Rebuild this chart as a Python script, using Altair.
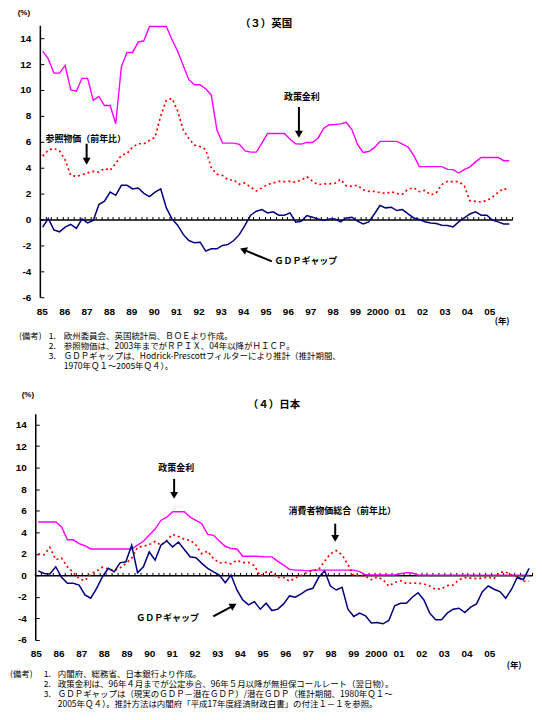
import altair as alt
import pandas as pd

FONT_NUM = "Liberation Sans"
FONT_JP = "Noto Sans CJK JP"

# ---------------- data (quarterly, starting 1985Q1) ----------------
# UK: policy rate, reference prices (y/y), GDP gap  -- 1985Q1..2005Q4
uk_policy_rate = [
    13.0, 12.4, 11.3, 11.3,  11.9, 10.0, 9.9, 10.9,  10.9, 9.2, 9.5, 8.8,
    8.8, 7.4, 11.8, 12.9,  12.9, 13.7, 13.8, 14.9,  14.9, 14.9, 14.9, 13.9,
    13.0, 11.9, 10.8, 10.4,  10.4, 10.1, 9.6, 6.9,  5.9, 5.9, 5.9, 5.8,
    5.3, 5.2, 5.2, 5.9,  6.64, 6.64, 6.64, 6.64,  6.2, 5.85, 5.82, 5.95,
    5.95, 6.3, 7.05, 7.32,  7.34, 7.38, 7.51, 6.95,  5.8, 5.18, 5.25, 5.55,
    6.03, 6.03, 6.03, 6.03,  5.82, 5.6, 4.95, 4.08,  4.08, 4.08, 4.08, 4.08,
    3.87, 3.85, 3.59, 3.85,  4.07, 4.45, 4.79, 4.79,  4.79, 4.79, 4.54, 4.54,
]
uk_ref_prices = [
    4.9, 5.35, 5.5, 5.3,  4.6, 3.4, 3.33, 3.45,  3.6, 3.72, 3.66, 3.95,
    3.8, 4.35, 4.95, 5.1,  5.6, 5.85, 5.85, 6.1,  6.35, 8.0, 9.2, 9.35,
    8.4, 6.92, 6.25, 5.75,  5.64, 5.4, 4.0, 3.5,  3.4, 3.05, 3.05, 2.72,
    2.82, 2.5, 2.2, 2.45,  2.7, 2.82, 2.95, 2.92,  2.95, 2.88, 3.05, 3.3,
    2.95, 2.69, 2.75, 2.75,  2.8, 3.1, 2.6, 2.56,  2.65, 2.3, 2.18, 2.18,
    2.08, 2.0, 2.15, 2.0,  1.95, 2.35, 2.45, 2.15,  2.25, 1.9, 2.05, 2.7,
    2.95, 2.92, 2.93, 2.6,  1.45, 1.4, 1.35, 1.46,  1.72, 2.1, 2.4, 2.25,
]
uk_gdp_gap = [
    -0.59, 0.08, -0.8, -0.95,  -0.59, -0.38, -0.69, 0.05,  -0.26, -0.08, 1.15, 1.41,
    2.12, 1.87, 2.64, 2.64,  2.36, 2.43, 2.02, 1.77,  2.12, 2.36, 0.9, 0.05,
    -0.44, -1.15, -1.62, -1.8,  -1.75, -2.44, -2.26, -2.26,  -2.0, -1.92, -1.62, -1.15,
    -0.44, 0.33, 0.64, 0.77,  0.51, 0.6, 0.33, 0.33,  0.51, -0.21, -0.13, 0.31,
    0.18, 0.05, -0.08, 0.05,  0.05, -0.18, 0.12, 0.18,  -0.13, -0.34, -0.18, 0.43,
    1.08, 0.9, 0.95, 0.69,  0.77, 0.43, 0.12, 0.0,  -0.18, -0.26, -0.31, -0.44,
    -0.46, -0.57, -0.18, 0.12,  0.43, 0.59, 0.33, 0.33,  -0.05, -0.18, -0.34, -0.34,
]

# Japan: policy rate, CPI (y/y), GDP gap  -- 1985Q1..2006Q1
jp_policy_rate = [
    4.95, 4.95, 4.95, 4.95,  4.5, 3.3, 3.3, 2.95,  2.75, 2.45, 2.45, 2.45,
    2.45, 2.45, 2.45, 2.45,  2.45, 2.8, 3.17, 3.75,  4.3, 5.1, 5.4, 5.9,
    5.9, 5.9, 5.41, 5.1,  4.8, 3.8, 3.72, 3.2,  2.7, 2.49, 2.45, 1.78,
    1.78, 1.78, 1.75, 1.72,  1.72, 1.3, 0.95, 0.55,  0.49, 0.49, 0.42, 0.47,
    0.49, 0.49, 0.49, 0.49,  0.49, 0.49, 0.49, 0.35,  0.05, 0.03, 0.03, 0.03,
    0.03, 0.03, 0.15, 0.25,  0.22, 0.03, 0.02, 0.02,  0.02, 0.02, 0.02, 0.02,
    0.02, 0.02, 0.02, 0.02,  0.02, 0.02, 0.02, 0.02,  0.02, 0.02, 0.02, 0.02,
    0.02,
]
jp_cpi = [
    2.0, 1.9, 2.6, 1.45,  1.6, 0.8, 0.25, -0.3,  -0.5, 0.15, 0.4, 0.75,
    0.6, 0.42, 0.7, 1.1,  1.6, 2.6, 2.7, 2.85,  3.15, 2.8, 3.25, 3.8,
    3.6, 3.35, 3.26, 2.8,  2.0, 2.25, 1.55, 1.15,  1.2, 1.07, 1.4, 1.18,
    1.2, 0.9, -0.05, 0.3,  0.3, -0.2, -0.2, -0.55,  -0.25, 0.0, 0.25, 0.45,
    0.55, 1.3, 2.0, 2.3,  1.9, 1.0, -0.05, 0.0,  -0.1, -0.4, -0.15, -0.4,
    -1.0, -0.65, -0.5, -0.75,  -0.7, -0.74, -0.8, -1.0,  -1.3, -1.25, -0.95, -0.9,
    -0.4, -0.2, -0.25, -0.3,  -0.25, -0.15, -0.3, 0.3,  0.3, 0.05, -0.15, -0.55,
    -0.55,
]
jp_gdp_gap = [
    0.42, 0.18, 0.12, 0.8,  -0.18, -0.74, -0.74, -0.9,  -1.82, -2.12, -1.2, -0.13,
    0.65, 0.33, 1.16, 1.26,  2.8, 0.24, 0.8, 2.18,  1.41, 2.8, 3.2, 2.64,
    3.1, 2.4, 1.72, 1.63,  1.11, 0.65, 0.33, 0.03,  -0.68, 0.03, -1.36, -2.28,
    -2.74, -2.44, -3.14, -2.59,  -3.27, -3.14, -2.65, -1.91,  -2.03, -1.73, -1.36, -1.2,
    -0.18, 0.42, -0.99, -1.36,  -1.11, -3.14, -3.82, -3.51,  -3.76, -4.43, -4.38, -4.5,
    -4.19, -2.83, -2.59, -2.59,  -2.03, -1.61, -2.28, -3.51,  -4.13, -4.13, -3.51, -3.14,
    -3.05, -3.45, -2.95, -2.65,  -1.51, -0.99, -1.29, -1.51,  -2.12, -1.29, -0.15, -0.4,
    0.65,
]

y_ticks = list(range(-6, 15, 2))
year_ticks = list(range(1985, 2006))

uk_notes = [
    "欧州委員会、英国統計局、ＢＯＥより作成。",
    "参照物価は、2003年までがＲＰＩＸ、04年以降がＨＩＣＰ。",
    "ＧＤＰギャップは、Hodrick-Prescottフィルターにより推計（推計期間、",
    "1970年Ｑ１～2005年Ｑ４）。",
]
jp_notes = [
    "内閣府、総務省、日本銀行より作成。",
    "政策金利は、96年４月までが公定歩合、96年５月以降が無担保コールレート（翌日物）。",
    "ＧＤＰギャップは（現実のＧＤＰ－潜在ＧＤＰ）/潜在ＧＤＰ（推計期間、1980年Ｑ１～",
    "2005年Ｑ４）。推計方法は内閣府「平成17年度経済財政白書」の付注１－１を参照。",
]

# annotation labels and arrows, in data units (year, %)
uk_labels = pd.DataFrame({
    "t": [1996.65, 1987.04, 1996.83],
    "v": [9.46, 6.23, -3.23],
    "txt": ["政策金利", "参照物価（前年比）", "ＧＤＰギャップ"],
})
uk_arrows = pd.DataFrame({
    "t": [1996.52, 1987.08, 1995.32], "v": [8.69, 5.85, -3.23],
    "t2": [1996.52, 1987.08, 1994.047], "v2": [6.58, 4.5, -2.33],
    "ang": [180, 180, 292],
})
jp_labels = pd.DataFrame({
    "t": [1991.03, 1998.13, 1990.66],
    "v": [9.94, 5.98, -3.97],
    "txt": ["政策金利", "消費者物価総合（前年比）", "ＧＤＰギャップ"],
})
jp_arrows = pd.DataFrame({
    "t": [1990.94, 1997.83, 1992.613], "v": [8.96, 4.8, -3.82],
    "t2": [1990.94, 1997.83, 1993.479], "v2": [7.43, 3.43, -2.80],
    "ang": [180, 180, 61.5],
})


def quarter_mid(n):
    return [1985 + (k + 0.5) / 4 for k in range(n)]


ONE = pd.DataFrame({"a": [0]})


def text(txt, x, y, size=8.5, weight="normal", align="left", font=FONT_JP):
    return alt.Chart(ONE).mark_text(
        text=txt, fontSize=size, fontWeight=weight, align=align,
        baseline="middle", font=font, color="black",
    ).encode(x=alt.value(x), y=alt.value(y))


def panel(policy, prices, gap, x_domain, x_range, label_range, width, height,
          labels, arrows, extras):
    xs = alt.Scale(domain=x_domain, range=x_range, nice=False, zero=False)
    ys = alt.Scale(domain=[-6, 15], nice=False, zero=False)
    axis_px = x_range[0]
    zero_px = height * 15 / 21
    n_q = int(round((x_domain[1] - 1985) * 4))
    quarter_ticks = [1985 + i / 4 for i in range(n_q + 1)]

    # row of year labels under the plot, spaced on its own scale
    year_scale = alt.Scale(domain=[1985, 2005], range=label_range, nice=False, zero=False)
    year_axis = alt.Axis(
        orient="bottom", values=year_ticks, domain=False, ticks=False, tickSize=0,
        grid=False, title=None, labelPadding=9, labelFont=FONT_NUM, labelFontSize=10,
        labelFontWeight="bold", labelColor="black", labelFlush=False,
        labelOverlap=False,
        labelExpr="datum.value == 2000 ? '2000' : (datum.value % 100 < 10 ? '0' : '') + (datum.value % 100)",
    )
    value_axis = alt.Axis(
        orient="left", offset=-axis_px, values=y_ticks, domain=True,
        domainColor="black", domainWidth=1.5, ticks=False, tickSize=0, grid=False,
        title=None, labelPadding=9, labelFont=FONT_NUM, labelFontSize=10,
        labelFontWeight="bold", labelColor="black", labelOverlap=False,
        labelExpr="datum.value < 0 ? '-' + abs(datum.value) : '' + datum.value",
    )
    zero_axis = alt.Axis(
        orient="top", offset=-zero_px, values=quarter_ticks, domain=True,
        domainColor="black", domainWidth=1.5, ticks=True, tickSize=3,
        tickColor="black", tickWidth=1, labels=False, grid=False, title=None,
    )
    inner_ticks = alt.Axis(
        orient="right", offset=-(width - axis_px), values=y_ticks, domain=False,
        ticks=True, tickSize=4, tickColor="black", tickWidth=1, labels=False,
        grid=False, title=None,
    )

    years = alt.Chart(pd.DataFrame({"t": year_ticks})).mark_point(opacity=0).encode(
        x=alt.X("t:Q", scale=year_scale, axis=year_axis), y=alt.value(0))
    rate = alt.Chart(pd.DataFrame({"t": quarter_mid(len(policy)), "v": policy})).mark_line(
        color="#ff00ff", strokeWidth=1.4
    ).encode(x=alt.X("t:Q", scale=xs, axis=None),
             y=alt.Y("v:Q", scale=ys, axis=value_axis))
    cpi = alt.Chart(pd.DataFrame({"t": quarter_mid(len(prices)), "v": prices})).mark_line(
        color="#ff0000", strokeWidth=1.7, strokeDash=[2, 3]
    ).encode(x=alt.X("t:Q", scale=xs, axis=zero_axis),
             y=alt.Y("v:Q", scale=ys, axis=inner_ticks))
    gdp = alt.Chart(pd.DataFrame({"t": quarter_mid(len(gap)), "v": gap})).mark_line(
        color="#000080", strokeWidth=1.5
    ).encode(x=alt.X("t:Q", scale=xs, axis=None),
             y=alt.Y("v:Q", scale=ys, axis=None))

    lab = alt.Chart(labels).mark_text(
        font=FONT_JP, fontSize=9, fontWeight="bold", color="black",
        align="center", baseline="middle",
    ).encode(x=alt.X("t:Q", scale=xs, axis=None),
             y=alt.Y("v:Q", scale=ys, axis=None), text="txt:N")
    shafts = alt.Chart(arrows).mark_rule(color="black", strokeWidth=2).encode(
        x=alt.X("t:Q", scale=xs, axis=None), y=alt.Y("v:Q", scale=ys, axis=None),
        x2="t2:Q", y2="v2:Q")
    heads = alt.Chart(arrows).mark_point(
        shape="triangle-up", filled=True, size=64, color="black", opacity=1
    ).encode(x=alt.X("t2:Q", scale=xs, axis=None),
             y=alt.Y("v2:Q", scale=ys, axis=None),
             angle=alt.Angle("ang:Q", scale=None))

    return alt.layer(years, rate, cpi, gdp, lab, shafts, heads, *extras).resolve_scale(
        x="independent"
    ).resolve_axis(
        x="independent", y="independent"
    ).properties(width=width, height=height)


def anchor(x, y):
    return alt.Chart(ONE).mark_rule(opacity=0).encode(
        x=alt.value(x), x2=alt.value(x), y=alt.value(y), y2=alt.value(y))


uk_extras = [
    text("(%)", -10, -12, size=8, weight="bold", align="center", font=FONT_NUM),
    text("（３）英国", 233, -1, size=10.5, weight="bold", align="center"),
    text("(年)", 470, 297, size=8.5, weight="bold", align="center"),
    text("(備考)", -15, 312), text("1.", 15, 312), text("2.", 15, 322),
    text("3.", 15, 332),
] + [text(s, 30, 312 + 10 * i) for i, s in enumerate(uk_notes)] + [anchor(-33, -23)]

jp_extras = [
    text("(%)", -6, -19, size=8, weight="bold", align="center", font=FONT_NUM),
    text("（４）日本", 241, -9, size=10.5, weight="bold", align="center"),
    text("(年)", 482, 252, size=8.5, weight="bold", align="center"),
    text("(備考)", -24, 261), text("1.", 10, 261), text("2.", 10, 271),
    text("3.", 10, 281),
] + [text(s, 24, 261 + 10 * i) for i, s in enumerate(jp_notes)] + [anchor(509, 307)]

uk = panel(uk_policy_rate, uk_ref_prices, uk_gdp_gap, [1985, 2006], [6, 480], [8, 457],
           500, 273, uk_labels, uk_arrows, uk_extras)
jp = panel(jp_policy_rate, jp_cpi, jp_gdp_gap, [1985, 2006.25], [1.4, 500], [2, 457],
           500, 227, jp_labels, jp_arrows, jp_extras)

chart = alt.vconcat(uk, jp, spacing=117, bounds="flush").properties(
    padding=0, background="white"
).configure_view(stroke="transparent")

chart.save("out.html", embed_options={"renderer": "svg", "actions": False})
